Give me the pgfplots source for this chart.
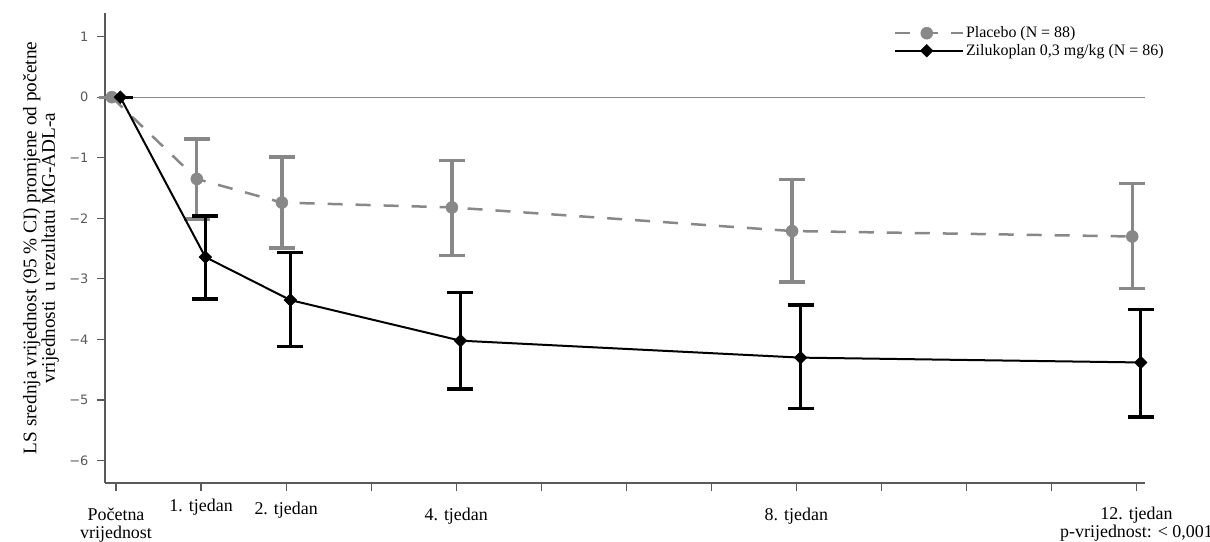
\documentclass[border=0pt]{standalone}
\usepackage{fontspec}
\setmainfont{Liberation Serif}
\newfontfamily\tickfont{DejaVu Sans}
\usepackage{pgfplots}
\pgfplotsset{compat=1.18}
\definecolor{pgray}{HTML}{888888}
\definecolor{axgray}{HTML}{5A5A5A}
\definecolor{ticklab}{HTML}{5A5A5A}

\pgfplotstableread{
x y ep em
-0.05 0 0 0
0.95 -1.35 0.66 0.66
1.95 -1.74 0.75 0.75
3.95 -1.82 0.78 0.79
7.95 -2.21 0.85 0.84
11.95 -2.30 0.88 0.86
}\placebo

\pgfplotstableread{
x y ep em
0.05 0 0 0
1.05 -2.64 0.68 0.69
2.05 -3.35 0.78 0.77
4.05 -4.02 0.80 0.80
8.05 -4.30 0.87 0.84
12.05 -4.38 0.88 0.90
}\zilu

\newcommand{\twol}[3]{\raisebox{#1}{\begin{tabular}[b]{@{}c@{}}#2\\#3\end{tabular}}}

\begin{document}
\begin{tikzpicture}
\path[use as bounding box] (0bp,0bp) rectangle (1210bp,542bp);
\begin{axis}[
  at={(105bp,59bp)}, anchor=south west,
  scale only axis, width=1040bp, height=470bp,
  xmin=-0.13, xmax=12.1, ymin=-6.37, ymax=1.39,
  axis x line=bottom, axis y line=left,
  axis line style={-, axgray, line width=1.2bp},
  tick style={axgray, line width=1.2bp},
  tick align=outside, major tick length=8bp,
  xtick={0,1,2,3,4,5,6,7,8,9,10,11,12},
  xticklabels={{\twol{-27bp}{Početna}{vrijednost}},1. tjedan,\raisebox{-3bp}{2. tjedan},,\raisebox{-9bp}{4. tjedan},,,,\raisebox{-9bp}{8. tjedan},,,,{\twol{-26bp}{12. tjedan}{p-vrijednost: < 0,001}}},
  xticklabel style={font=\fontsize{18}{16.7}\selectfont, anchor=base, yshift=-20bp},
  ytick={-6,-5,-4,-3,-2,-1,0,1},
  yticklabels={−6,−5,−4,−3,−2,−1,0,1},
  yticklabel style={font=\tickfont\fontsize{13}{13}\selectfont, text=ticklab, xshift=-5bp},
  ylabel={LS srednja vrijednost (95 \% CI) promjene od početne\\vrijednosti\ \ u rezultatu MG-ADL-a},
  ylabel style={at={(axis description cs:-0.0615,0.5)}, anchor=center, align=center, font=\fontsize{19.3}{17}\selectfont},
  legend style={at={(0.758,0.975)}, anchor=north west, draw=none, fill=none, inner sep=0pt,
    font=\fontsize{16}{16}\selectfont, row sep=1bp, legend cell align=left},
  legend image code/.code={\draw[mark repeat=2,mark phase=2] plot coordinates {(0bp,0bp) (32bp,0bp) (64bp,0bp)};
    \path (0bp,0bp) -- (68bp,0bp);},
  clip=false,
]
\addplot[pgray, line width=0.8bp, forget plot] coordinates {(-0.13,0) (12.1,0)};
\addplot[pgray, line width=2.5bp, dash pattern=on 15bp off 13bp,
  mark=*, mark size=6bp, mark options={solid, fill=pgray, draw=pgray, line width=0.5bp},
  error bars/.cd, y dir=both, y explicit,
  error bar style={line width=3.3bp, solid, pgray},
  error mark options={rotate=90, mark size=13bp, line width=3.3bp, pgray, solid}]
  table[x=x, y=y, y error plus=ep, y error minus=em] {\placebo};
\addlegendentry{Placebo (N = 88)}
\addplot[black, line width=2bp,
  mark=square*, mark size=4.5bp, mark options={rotate=45, fill=black, line width=0.5bp},
  error bars/.cd, y dir=both, y explicit,
  error bar style={line width=3.3bp, black},
  error mark options={rotate=90, mark size=13bp, line width=3.3bp, black}]
  table[x=x, y=y, y error plus=ep, y error minus=em] {\zilu};
\addlegendentry{Zilukoplan 0,3 mg/kg (N = 86)}
\end{axis}
\end{tikzpicture}
\end{document}
